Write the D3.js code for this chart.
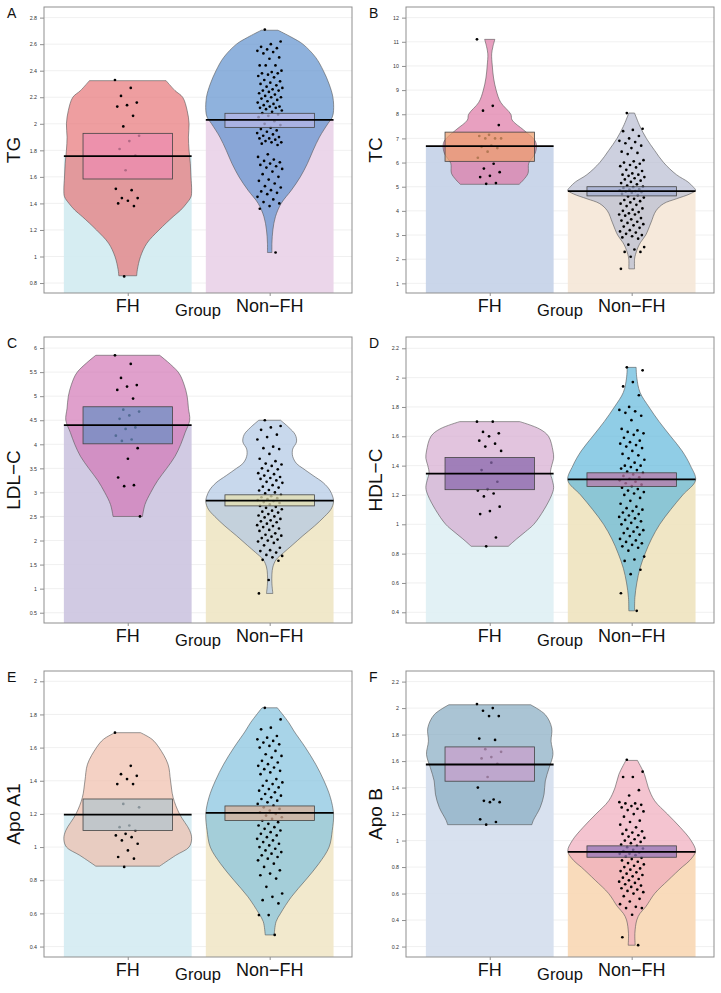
<!DOCTYPE html>
<html>
<head>
<meta charset="utf-8">
<script src="https://cdn.jsdelivr.net/npm/d3@7"></script>
<style>
  body { margin: 0; background: #fff; }
  svg { display: block; }
  text { font-family: 'Liberation Sans', Arial, sans-serif; }
</style>
</head>
<body>
<div id="chart"></div>
<script>
// ---- data ----
const groupNames = ['FH', 'Non\u2212FH'];
const panelLetters = ['A', 'B', 'C', 'D', 'E', 'F'];
const yLabels = ['TG', 'TC', 'LDL\u2212C', 'HDL\u2212C', 'Apo A1', 'Apo B'];

// TG
const tgRange = [0.725, 2.88];
const tgTicks = [0.8, 1, 1.2, 1.4, 1.6, 1.8, 2, 2.2, 2.4, 2.6, 2.8];
const tgMeans = [1.757, 2.029];
const tgHdi = [[1.584, 1.928], [1.973, 2.079]];
const tgFhPoints = [2.33, 2.27, 2.21, 2.16, 2.14, 2.13, 2.06, 1.98, 1.91, 1.87, 1.81, 1.76, 1.65, 1.51, 1.50, 1.44, 1.44, 1.42, 1.40, 1.38, 0.85];
const tgNonPoints = [2.71, 2.62, 2.60, 2.58, 2.57, 2.56, 2.55, 2.54, 2.53, 2.50, 2.49, 2.44, 2.44, 2.44, 2.40, 2.39, 2.38, 2.38, 2.37, 2.36, 2.35, 2.33, 2.32, 2.31, 2.30, 2.29, 2.28, 2.27, 2.26, 2.25, 2.25, 2.24, 2.23, 2.22, 2.21, 2.20, 2.20, 2.19, 2.18, 2.17, 2.16, 2.15, 2.14, 2.13, 2.13, 2.12, 2.12, 2.11, 2.10, 2.09, 2.08, 2.07, 2.06, 2.05, 2.02, 2.00, 1.99, 1.97, 1.96, 1.95, 1.94, 1.93, 1.92, 1.91, 1.90, 1.89, 1.89, 1.88, 1.87, 1.86, 1.86, 1.85, 1.84, 1.77, 1.75, 1.73, 1.72, 1.71, 1.70, 1.69, 1.68, 1.67, 1.66, 1.64, 1.62, 1.60, 1.58, 1.57, 1.55, 1.53, 1.52, 1.50, 1.49, 1.48, 1.47, 1.45, 1.43, 1.41, 1.40, 1.38, 1.36, 1.03];
const tgFhBean = [[2.325, .60], [2.25, .74], [2.2, .86], [2.1, .93], [2.0, .96], [1.9, .95], [1.8, .96], [1.7, .98], [1.6, .99], [1.5, 1.0], [1.45, .99], [1.4, .92], [1.35, .83], [1.3, .71], [1.2, .49], [1.1, .30], [1.0, .20], [0.9, .15], [0.855, .14]];
const tgNonBean = [[2.705, .13], [2.65, .35], [2.6, .52], [2.5, .72], [2.4, .84], [2.3, .93], [2.2, .99], [2.1, 1.0], [2.05, .98], [2.0, .91], [1.9, .78], [1.8, .68], [1.7, .59], [1.6, .48], [1.5, .34], [1.4, .18], [1.3, .09], [1.2, .05], [1.1, .035], [1.03, .035]];

// TC
const tcRange = [0.6, 12.44];
const tcTicks = [1, 2, 3, 4, 5, 6, 7, 8, 9, 10, 11, 12];
const tcMeans = [6.68, 4.82];
const tcHdi = [[6.05, 7.26], [4.62, 5.0]];
const tcFhPoints = [11.1, 8.35, 8.15, 7.55, 7.15, 7.1, 7.0, 7.0, 7.0, 6.7, 6.65, 6.6, 6.45, 6.2, 5.95, 5.75, 5.6, 5.45, 5.4, 5.15, 5.12];
const tcNonPoints = [8.05, 7.4, 7.35, 7.3, 7.1, 7.0, 6.9, 6.85, 6.8, 6.7, 6.6, 6.45, 6.4, 6.35, 6.1, 6.05, 6.0, 5.95, 5.9, 5.85, 5.8, 5.7, 5.65, 5.55, 5.5, 5.5, 5.45, 5.4, 5.35, 5.3, 5.25, 5.2, 5.15, 5.1, 5.05, 5.0, 4.98, 4.95, 4.9, 4.88, 4.85, 4.82, 4.8, 4.78, 4.75, 4.7, 4.65, 4.6, 4.55, 4.5, 4.45, 4.4, 4.35, 4.3, 4.25, 4.2, 4.1, 4.05, 4.0, 3.95, 3.9, 3.85, 3.85, 3.8, 3.7, 3.65, 3.6, 3.55, 3.5, 3.45, 3.4, 3.35, 3.3, 3.2, 3.15, 3.1, 3.05, 3.0, 2.95, 2.9, 2.85, 2.6, 2.5, 2.4, 2.3, 2.3, 2.1, 1.6];
const tcFhBean = [[11.1, .08], [10.8, .05], [10.5, .03], [10.0, .04], [9.5, .06], [9.0, .10], [8.5, .17], [8.0, .33], [7.76, .35], [7.35, .53], [6.94, .70], [6.73, .73], [6.38, .71], [5.97, .61], [5.56, .60], [5.29, .53], [5.1, .46]];
const tcNonBean = [[8.05, .045], [7.5, .13], [7.0, .23], [6.5, .36], [6.0, .50], [5.5, .70], [5.2, .88], [5.0, .96], [4.85, 1.0], [4.7, .91], [4.5, .70], [4.3, .50], [4.0, .38], [3.5, .30], [3.0, .22], [2.7, .14], [2.5, .10], [2.2, .06], [2.0, .045], [1.6, .045]];

// LDL-C
const ldlRange = [0.286, 6.23];
const ldlTicks = [0.5, 1, 1.5, 2, 2.5, 3, 3.5, 4, 4.5, 5, 5.5, 6];
const ldlMeans = [4.40, 2.83];
const ldlHdi = [[4.01, 4.78], [2.72, 2.95]];
const ldlFhPoints = [5.85, 5.67, 5.38, 5.23, 5.2, 5.13, 4.95, 4.72, 4.68, 4.6, 4.53, 4.35, 4.32, 4.18, 4.1, 4.07, 3.92, 3.7, 3.31, 3.15, 3.13, 2.5];
const ldlNonPoints = [4.5, 4.38, 4.35, 4.3, 4.2, 4.15, 4.1, 3.95, 3.92, 3.9, 3.8, 3.7, 3.65, 3.6, 3.58, 3.55, 3.5, 3.48, 3.45, 3.4, 3.38, 3.35, 3.32, 3.3, 3.28, 3.25, 3.22, 3.2, 3.15, 3.12, 3.1, 3.05, 3.04, 3.0, 2.98, 2.95, 2.92, 2.9, 2.88, 2.86, 2.84, 2.82, 2.8, 2.78, 2.75, 2.72, 2.7, 2.68, 2.65, 2.62, 2.6, 2.58, 2.55, 2.52, 2.5, 2.48, 2.45, 2.42, 2.4, 2.38, 2.35, 2.32, 2.3, 2.28, 2.25, 2.22, 2.2, 2.15, 2.12, 2.1, 2.08, 2.05, 2.02, 2.0, 1.98, 1.95, 1.9, 1.85, 1.8, 1.78, 1.75, 1.7, 1.68, 1.65, 1.6, 1.58, 1.18, 0.9];
const ldlFhBean = [[5.85, .50], [5.5, .79], [5.25, .88], [5.0, .93], [4.75, .95], [4.5, .97], [4.25, .90], [4.0, .83], [3.75, .74], [3.5, .61], [3.25, .47], [3.0, .36], [2.75, .27], [2.5, .23]];
const ldlNonBean = [[4.5, .17], [4.35, .30], [4.2, .40], [4.05, .42], [3.9, .36], [3.75, .36], [3.6, .42], [3.5, .52], [3.35, .68], [3.2, .84], [3.05, .94], [2.9, .99], [2.8, 1.0], [2.65, .96], [2.5, .86], [2.3, .70], [2.1, .52], [1.9, .35], [1.75, .22], [1.6, .10], [1.45, .05], [1.3, .035], [1.1, .035], [0.9, .05]];

// HDL-C
const hdlRange = [0.327, 2.277];
const hdlTicks = [0.4, 0.6, 0.8, 1, 1.2, 1.4, 1.6, 1.8, 2, 2.2];
const hdlMeans = [1.346, 1.306];
const hdlHdi = [[1.236, 1.455], [1.258, 1.351]];
const hdlFhPoints = [1.70, 1.70, 1.63, 1.62, 1.60, 1.57, 1.55, 1.53, 1.50, 1.42, 1.37, 1.29, 1.24, 1.23, 1.21, 1.19, 1.12, 1.09, 1.07, 0.91, 0.85];
const hdlNonPoints = [2.07, 2.05, 1.97, 1.94, 1.88, 1.8, 1.78, 1.77, 1.76, 1.74, 1.71, 1.65, 1.64, 1.63, 1.62, 1.61, 1.59, 1.57, 1.56, 1.55, 1.54, 1.53, 1.52, 1.5, 1.48, 1.47, 1.45, 1.44, 1.42, 1.4, 1.4, 1.39, 1.38, 1.37, 1.36, 1.35, 1.34, 1.33, 1.32, 1.31, 1.3, 1.29, 1.28, 1.27, 1.26, 1.25, 1.24, 1.23, 1.22, 1.21, 1.2, 1.18, 1.16, 1.14, 1.12, 1.11, 1.1, 1.09, 1.08, 1.07, 1.06, 1.05, 1.04, 1.03, 1.02, 1.01, 1.0, 0.98, 0.97, 0.96, 0.95, 0.94, 0.93, 0.92, 0.9, 0.89, 0.88, 0.87, 0.86, 0.85, 0.84, 0.82, 0.78, 0.76, 0.75, 0.69, 0.66, 0.53, 0.41];
const hdlFhBean = [[1.70, .47], [1.65, .78], [1.6, .92], [1.5, .99], [1.45, 1.0], [1.4, .97], [1.35, .95], [1.3, .98], [1.25, 1.0], [1.2, .97], [1.1, .85], [1.0, .69], [0.95, .56], [0.9, .42], [0.85, .29]];
const hdlNonBean = [[2.07, .07], [2.0, .08], [1.9, .13], [1.8, .27], [1.7, .43], [1.6, .61], [1.5, .79], [1.4, .92], [1.3, 1.0], [1.2, .80], [1.1, .61], [1.0, .44], [0.9, .31], [0.8, .21], [0.7, .13], [0.6, .08], [0.5, .05], [0.41, .045]];

// Apo A1
const apoaRange = [0.337, 2.062];
const apoaTicks = [0.4, 0.6, 0.8, 1, 1.2, 1.4, 1.6, 1.8, 2];
const apoaMeans = [1.196, 1.206];
const apoaHdi = [[1.10, 1.29], [1.16, 1.248]];
const apoaFhPoints = [1.69, 1.49, 1.44, 1.43, 1.41, 1.38, 1.38, 1.26, 1.24, 1.13, 1.12, 1.10, 1.08, 1.07, 1.06, 1.04, 1.02, 0.98, 0.94, 0.93, 0.88];
const apoaNonPoints = [1.84, 1.77, 1.72, 1.71, 1.67, 1.66, 1.65, 1.64, 1.63, 1.62, 1.61, 1.6, 1.58, 1.56, 1.55, 1.54, 1.52, 1.51, 1.5, 1.49, 1.48, 1.47, 1.46, 1.45, 1.44, 1.41, 1.4, 1.39, 1.38, 1.37, 1.36, 1.35, 1.34, 1.33, 1.32, 1.31, 1.3, 1.29, 1.28, 1.27, 1.26, 1.25, 1.24, 1.23, 1.22, 1.21, 1.2, 1.19, 1.18, 1.17, 1.16, 1.15, 1.14, 1.13, 1.12, 1.11, 1.1, 1.09, 1.08, 1.07, 1.06, 1.05, 1.04, 1.03, 1.02, 1.01, 1.0, 0.99, 0.98, 0.97, 0.96, 0.95, 0.94, 0.93, 0.92, 0.9, 0.88, 0.86, 0.84, 0.83, 0.81, 0.76, 0.72, 0.7, 0.68, 0.66, 0.59, 0.59, 0.47];
const apoaFhBean = [[1.69, .20], [1.65, .38], [1.6, .49], [1.5, .63], [1.4, .67], [1.3, .71], [1.2, .81], [1.1, .97], [1.05, 1.0], [1.0, .96], [0.95, .75], [0.885, .50]];
const apoaNonBean = [[1.84, .12], [1.75, .30], [1.7, .38], [1.6, .56], [1.5, .72], [1.4, .85], [1.3, .95], [1.2, 1.0], [1.1, .98], [1.0, .93], [0.9, .77], [0.8, .56], [0.7, .34], [0.6, .17], [0.55, .10], [0.47, .07]];

// Apo B
const apobRange = [0.121, 2.28];
const apobTicks = [0.2, 0.4, 0.6, 0.8, 1, 1.2, 1.4, 1.6, 1.8, 2, 2.2];
const apobMeans = [1.574, 0.914];
const apobHdi = [[1.448, 1.707], [0.874, 0.96]];
const apobFhPoints = [2.03, 2.0, 1.98, 1.94, 1.94, 1.77, 1.76, 1.69, 1.67, 1.63, 1.62, 1.58, 1.48, 1.40, 1.31, 1.30, 1.29, 1.29, 1.16, 1.14, 1.12];
const apobNonPoints = [1.61, 1.52, 1.48, 1.48, 1.38, 1.34, 1.29, 1.28, 1.28, 1.27, 1.26, 1.25, 1.24, 1.23, 1.22, 1.2, 1.18, 1.15, 1.14, 1.12, 1.1, 1.08, 1.07, 1.06, 1.05, 1.04, 1.03, 1.02, 1.01, 1.0, 0.99, 0.98, 0.97, 0.96, 0.95, 0.94, 0.93, 0.92, 0.91, 0.9, 0.9, 0.89, 0.88, 0.87, 0.86, 0.85, 0.84, 0.83, 0.82, 0.81, 0.8, 0.79, 0.78, 0.77, 0.76, 0.75, 0.74, 0.73, 0.72, 0.71, 0.7, 0.69, 0.68, 0.67, 0.66, 0.65, 0.64, 0.63, 0.62, 0.61, 0.6, 0.58, 0.56, 0.54, 0.52, 0.5, 0.49, 0.49, 0.44, 0.27, 0.21];
const apobFhBean = [[2.025, .64], [1.95, .87], [1.85, .97], [1.75, .96], [1.65, .99], [1.55, .93], [1.45, .87], [1.35, .85], [1.25, .79], [1.15, .68], [1.12, .66]];
const apobNonBean = [[1.605, .09], [1.5, .20], [1.4, .26], [1.3, .36], [1.2, .56], [1.1, .76], [1.0, .93], [0.92, 1.0], [0.85, .91], [0.8, .79], [0.7, .57], [0.6, .36], [0.5, .22], [0.45, .13], [0.4, .08], [0.3, .05], [0.21, .055]];

// colours per panel: [FH, Non-FH]
const barColors = [['#d2ebf1', '#e9d3e8'], ['#c5d3e8', '#f5e7d8'], ['#cdc6e1', '#efe6c5'], ['#dff0f4', '#efe4c0'], ['#d5ecf2', '#f1e7c9'], ['#d5deee', '#f8d8b5']];
const beanColors = [['#e77577', '#5f92ce'], ['#de77a5', '#b8bcd2'], ['#d377b6', '#b0c7e4'], ['#d6abd0', '#61b8db'], ['#efbdab', '#83c2de'], ['#86abc2', '#efabbc']];
const boxColors = [['#ec8cb0', '#b6b6e6'], ['#eea070', '#a2acd0'], ['#6e8fc4', '#e6e0b0'], ['#8a68ac', '#b878a8'], ['#b4c4cc', '#d8b098'], ['#c8a0cc', '#9476b8']];

const panels = [
  { range: tgRange, ticks: tgTicks, means: tgMeans, hdi: tgHdi, points: [tgFhPoints, tgNonPoints], beans: [tgFhBean, tgNonBean] },
  { range: tcRange, ticks: tcTicks, means: tcMeans, hdi: tcHdi, points: [tcFhPoints, tcNonPoints], beans: [tcFhBean, tcNonBean] },
  { range: ldlRange, ticks: ldlTicks, means: ldlMeans, hdi: ldlHdi, points: [ldlFhPoints, ldlNonPoints], beans: [ldlFhBean, ldlNonBean] },
  { range: hdlRange, ticks: hdlTicks, means: hdlMeans, hdi: hdlHdi, points: [hdlFhPoints, hdlNonPoints], beans: [hdlFhBean, hdlNonBean] },
  { range: apoaRange, ticks: apoaTicks, means: apoaMeans, hdi: apoaHdi, points: [apoaFhPoints, apoaNonPoints], beans: [apoaFhBean, apoaNonBean] },
  { range: apobRange, ticks: apobTicks, means: apobMeans, hdi: apobHdi, points: [apobFhPoints, apobNonPoints], beans: [apobFhBean, apobNonBean] },
];

// ---- layout ----
const W = 721, H = 993;
const colLeft = [44, 406];
const rowTop = [7, 337, 671];
const plotW = 308, plotH = 286;
const barHalf = 0.45, beanHalf = 0.45, boxHalf = 0.315, jitter = 0.09;

const svg = d3.select('#chart').append('svg')
  .attr('width', W)
  .attr('height', H);

panels.forEach((p, pi) => {
  const left = colLeft[pi % 2];
  const top = rowTop[Math.floor(pi / 2)];

  const x = d3.scaleLinear().domain([0.41, 2.58]).range([left, left + plotW]);
  const y = d3.scaleLinear().domain(p.range).range([top + plotH, top]);

  const g = svg.append('g');

  const clipId = 'clip' + pi;
  g.append('clipPath').attr('id', clipId)
    .append('rect')
    .attr('x', left).attr('y', top)
    .attr('width', plotW).attr('height', plotH);

  // gridlines
  g.append('g')
    .selectAll('line')
    .data(p.ticks)
    .enter()
    .append('line')
    .attr('x1', left).attr('x2', left + plotW)
    .attr('y1', (d) => y(d)).attr('y2', (d) => y(d))
    .attr('stroke', '#ececec')
    .attr('stroke-width', 0.8);

  const body = g.append('g').attr('clip-path', `url(#${clipId})`);

  // bars
  p.means.forEach((m, gi) => {
    body.append('rect')
      .attr('x', x(gi + 1 - barHalf))
      .attr('width', x(gi + 1 + barHalf) - x(gi + 1 - barHalf))
      .attr('y', y(m))
      .attr('height', top + plotH - y(m))
      .attr('fill', barColors[pi][gi])
      .attr('fill-opacity', 0.92);
  });

  // beans
  p.beans.forEach((bean, gi) => {
    const cx = gi + 1;
    const area = d3.area()
      .y((d) => y(d[0]))
      .x0((d) => x(cx - d[1] * beanHalf))
      .x1((d) => x(cx + d[1] * beanHalf))
      .curve(d3.curveCatmullRom.alpha(0.5));
    body.append('path')
      .datum(bean)
      .attr('d', area)
      .attr('fill', beanColors[pi][gi])
      .attr('fill-opacity', 0.7)
      .attr('stroke', '#555')
      .attr('stroke-width', 0.6);
  });

  // points
  p.points.forEach((vals, gi) => {
    const cx = gi + 1;
    body.append('g')
      .selectAll('circle')
      .data(vals)
      .enter()
      .append('circle')
      .attr('cx', (d, i) => x(cx + (((i * 0.618034 + gi * 0.31) % 1) * 2 - 1) * jitter))
      .attr('cy', (d) => y(d))
      .attr('r', 1.35)
      .attr('fill', '#000');
  });

  // HDI boxes
  p.hdi.forEach((h, gi) => {
    const cx = gi + 1;
    body.append('rect')
      .attr('x', x(cx - boxHalf))
      .attr('width', x(cx + boxHalf) - x(cx - boxHalf))
      .attr('y', y(h[1]))
      .attr('height', y(h[0]) - y(h[1]))
      .attr('fill', boxColors[pi][gi])
      .attr('fill-opacity', 0.75)
      .attr('stroke', '#444')
      .attr('stroke-width', 0.8);
  });

  // mean lines
  p.means.forEach((m, gi) => {
    const cx = gi + 1;
    body.append('line')
      .attr('x1', x(cx - barHalf)).attr('x2', x(cx + barHalf))
      .attr('y1', y(m)).attr('y2', y(m))
      .attr('stroke', '#000')
      .attr('stroke-width', 1.8);
  });

  // frame
  g.append('rect')
    .attr('x', left).attr('y', top)
    .attr('width', plotW).attr('height', plotH)
    .attr('fill', 'none')
    .attr('stroke', '#8f8f8f')
    .attr('stroke-width', 1);

  // y axis
  const yAxis = d3.axisLeft(y)
    .tickValues(p.ticks)
    .tickSize(4)
    .tickPadding(3)
    .tickFormat((d) => String(+d.toFixed(2)));
  const ya = g.append('g')
    .attr('transform', `translate(${left},0)`)
    .call(yAxis);
  ya.select('.domain').remove();
  ya.selectAll('line').attr('stroke', '#8f8f8f');
  ya.selectAll('text')
    .attr('fill', '#333')
    .style('font-size', '5.3px');

  // x axis
  const xa = g.append('g')
    .attr('transform', `translate(0,${top + plotH})`)
    .call(d3.axisBottom(x).tickValues([1, 2]).tickSize(3).tickFormat(() => ''));
  xa.select('.domain').remove();
  xa.selectAll('line').attr('stroke', '#8f8f8f');

  groupNames.forEach((name, gi) => {
    g.append('text')
      .attr('x', x(gi + 1))
      .attr('y', top + plotH + 18.5)
      .attr('text-anchor', 'middle')
      .style('font-size', '18px')
      .attr('fill', '#111')
      .text(name);
  });

  g.append('text')
    .attr('x', left + plotW / 2)
    .attr('y', top + plotH + 23)
    .attr('text-anchor', 'middle')
    .style('font-size', '16.5px')
    .attr('fill', '#111')
    .text('Group');

  // y label
  g.append('text')
    .attr('transform', `translate(${left - 24},${top + plotH / 2}) rotate(-90)`)
    .attr('text-anchor', 'middle')
    .style('font-size', '19px')
    .attr('fill', '#111')
    .text(yLabels[pi]);

  // panel letter
  g.append('text')
    .attr('x', left - 37)
    .attr('y', top + 11)
    .style('font-size', '14px')
    .attr('fill', '#111')
    .text(panelLetters[pi]);
});
</script>
</body>
</html>
